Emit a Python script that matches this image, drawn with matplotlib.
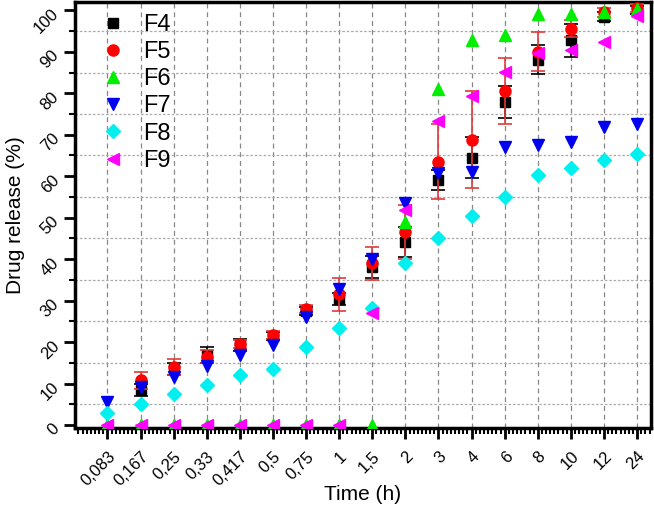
import numpy as np
import matplotlib
matplotlib.use("Agg")
import matplotlib.pyplot as plt
from matplotlib.ticker import MultipleLocator
from matplotlib.lines import Line2D

plt.rcParams['font.family'] = ['Liberation Sans', 'DejaVu Sans']

time_labels = ["0,083", "0,167", "0,25", "0,33", "0,417", "0,5", "0,75", "1", "1,5",
               "2", "3", "4", "6", "8", "10", "12", "24"]
nan = np.nan
F4 = [nan, 8.4, 13.5, 16.9, 19.3, 21.5, 27.5, 30.4, 38.1, 44.2, 59.0, 64.5, 77.9, 88.1, 92.8, 98.5, 100.0]
F4_err = [nan, 1.5, 1.5, 2.0, 1.5, 1.0, 1.0, 1.5, 2.7, 3.6, 2.4, 5.0, 3.8, 3.5, 4.0, 1.0, 1.0]
F5 = [nan, 10.8, 14.0, 16.5, 19.5, 21.8, 28.0, 31.5, 39.0, 46.5, 63.5, 68.8, 80.6, 90.0, 95.6, 99.5, 100.5]
F5_err = [nan, 2.0, 2.0, 1.5, 1.0, 1.0, 1.0, 4.0, 4.0, 6.5, 9.0, 11.7, 8.0, 4.7, 2.0, 1.0, 1.0]
F6 = [0, 0, 0, 0, 0, 0, 0, 0, 0, 49.0, 81.1, 92.9, 94.1, 99.0, 99.2, 99.5, 100.3]
F7 = [5.6, 9.2, 11.6, 14.3, 16.9, 19.3, 26.0, 32.8, 40.0, 53.5, 60.8, 61.0, 67.0, 67.6, 68.3, 71.9, 72.7]
F8 = [2.8, 5.1, 7.5, 9.6, 12.0, 13.5, 18.9, 23.5, 28.2, 39.0, 45.0, 50.4, 55.0, 60.4, 62.1, 64.0, 65.3]
F9 = [0, 0, 0, 0, 0, 0, 0, 0, 27.0, 51.8, 73.3, 79.3, 85.1, 89.7, 90.4, 92.4, 98.6]

x = np.arange(len(time_labels))

fig = plt.figure(figsize=(6.54, 5.11), dpi=100)
ax = fig.add_axes([75/654, 1-428/511, (651-75)/654, (428-2)/511])

styles = [
    ('F4', 's', 'black', 7),
    ('F5', 'o', '#ff0000', 8),
    ('F6', '^', '#00ee00', 9),
    ('F7', 'v', '#0000ee', 9),
    ('F8', 'D', '#00f0f0', 7),
    ('F9', '<', '#ff00ff', 9),
]

ax.errorbar(x, F4, yerr=F4_err, fmt='s', color='black', ms=7, ecolor='black',
            elinewidth=1.2, capsize=5, capthick=1.2, zorder=3)
ax.errorbar(x, F5, yerr=F5_err, fmt='o', color='#ff0000', ms=8, ecolor='#e03a3a',
            elinewidth=1.2, capsize=5, capthick=1.2, zorder=4)
ax.plot(x, F6, '^', color='#00ee00', ms=9, zorder=5, linestyle='none')
ax.plot(x, F7, 'v', color='#0000ee', ms=9, zorder=6, linestyle='none')
ax.plot(x, F8, 'D', color='#00f0f0', ms=7, zorder=7, linestyle='none')
ax.plot(x, F9, '<', color='#ff00ff', ms=9, zorder=8, linestyle='none')

ax.set_xlim(-0.98, 16.42)
ax.set_ylim(-0.7, 102)

ax.set_xticks(x)
ax.set_xticklabels(time_labels, rotation=45, ha='right', rotation_mode='anchor', fontsize=12)
ax.xaxis.set_minor_locator(MultipleLocator(1/8))
ax.yaxis.set_major_locator(MultipleLocator(10))
ax.yaxis.set_minor_locator(MultipleLocator(5))
for lab in ax.get_yticklabels():
    lab.set_rotation(45)
    lab.set_ha('right')
    lab.set_rotation_mode('anchor')
    lab.set_fontsize(12)

ax.tick_params(axis='both', which='major', direction='out', length=8, width=2, pad=6)
ax.tick_params(axis='x', which='major', pad=7)
ax.tick_params(axis='both', which='minor', direction='out', length=4, width=1.5)

for s in ax.spines.values():
    s.set_linewidth(2.5)

ax.grid(True, which='major', axis='x', color='#888888', linestyle=(0, (4, 3)), linewidth=0.9)
ax.grid(True, which='minor', axis='y', color='#aaaaaa', linestyle=(0, (2, 1.5)), linewidth=0.9)
ax.set_axisbelow(True)

ax.set_xlabel('Time (h)', fontsize=15, va='center')
ax.xaxis.set_label_coords(0.5, (428 - 495) / 426)
ax.set_ylabel('Drug release (%)', fontsize=15, va='center')
ax.yaxis.set_label_coords((16 - 75) / 576, 0.5)

handles = [Line2D([], [], marker=m, color=c, ms=ms, linestyle='none') for _, m, c, ms in styles]
labels = [n for n, _, _, _ in styles]
ax.legend(handles, labels, loc='upper left', frameon=False, fontsize=17, handlelength=1.4,
          handletextpad=0.6, labelspacing=0.22, borderaxespad=0.1,
          bbox_to_anchor=(0.016, 1.0))

fig.savefig('out.png', dpi=100)
